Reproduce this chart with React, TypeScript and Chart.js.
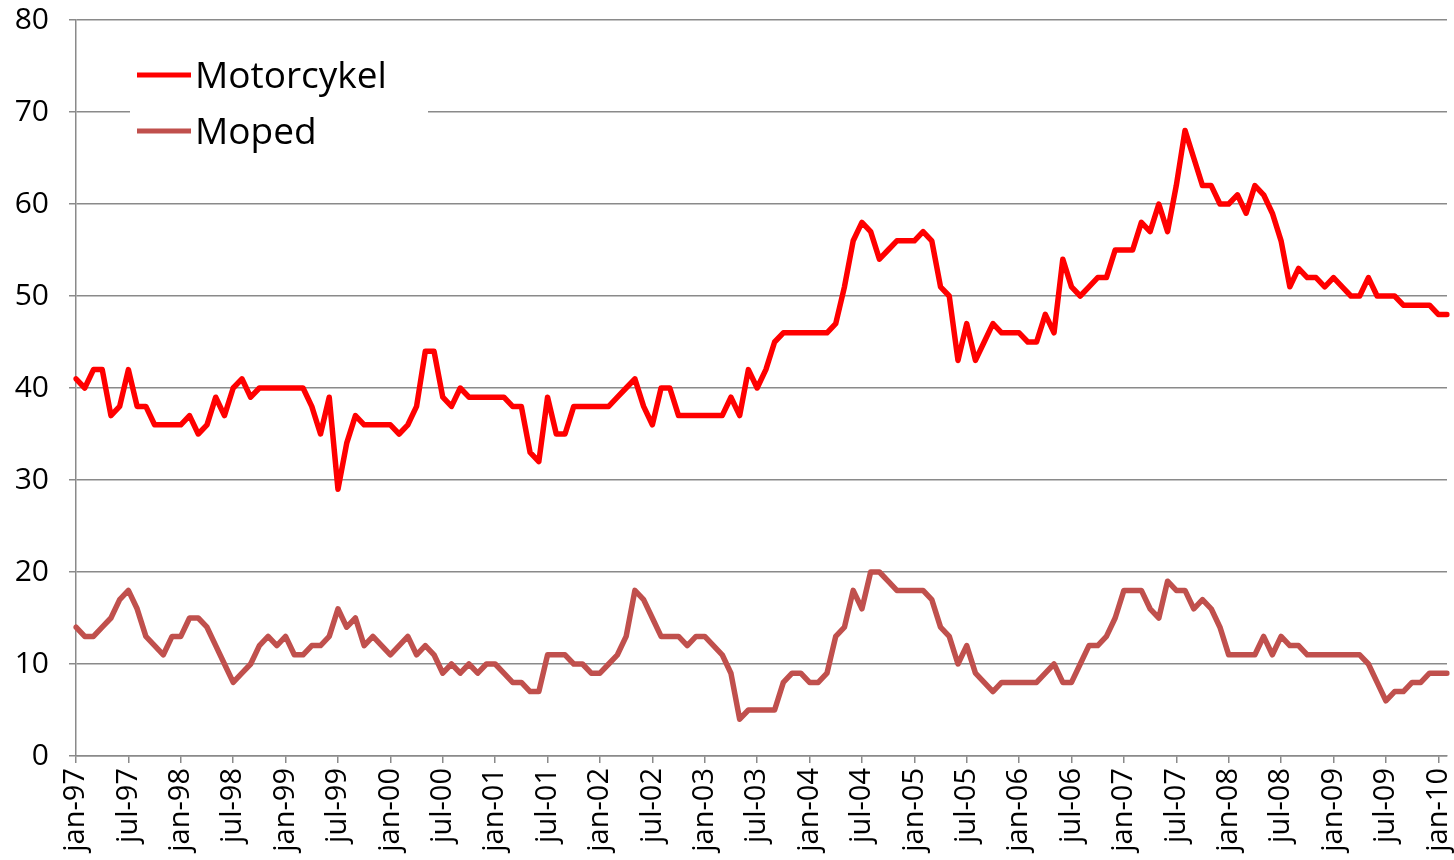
import React, { useEffect, useRef } from 'react';
import { Chart, registerables } from 'chart.js';

Chart.register(...registerables);

const monthNames = ['jan', 'feb', 'mar', 'apr', 'maj', 'jun', 'jul', 'aug', 'sep', 'okt', 'nov', 'dec'];
const startYear = 1997;
const monthCount = 158; // jan-97 .. feb-10

const categories: string[] = [];
for (let i = 0; i < monthCount; i++) {
  const y = (startYear + Math.floor(i / 12)) % 100;
  categories.push(`${monthNames[i % 12]}-${String(y).padStart(2, '0')}`);
}

const motorcykel = [
  41, 40, 42, 42, 37, 38, 42, 38, 38, 36, 36, 36,
  36, 37, 35, 36, 39, 37, 40, 41, 39, 40, 40, 40,
  40, 40, 40, 38, 35, 39, 29, 34, 37, 36, 36, 36,
  36, 35, 36, 38, 44, 44, 39, 38, 40, 39, 39, 39,
  39, 39, 38, 38, 33, 32, 39, 35, 35, 38, 38, 38,
  38, 38, 39, 40, 41, 38, 36, 40, 40, 37, 37, 37,
  37, 37, 37, 39, 37, 42, 40, 42, 45, 46, 46, 46,
  46, 46, 46, 47, 51, 56, 58, 57, 54, 55, 56, 56,
  56, 57, 56, 51, 50, 43, 47, 43, 45, 47, 46, 46,
  46, 45, 45, 48, 46, 54, 51, 50, 51, 52, 52, 55,
  55, 55, 58, 57, 60, 57, 62, 68, 65, 62, 62, 60,
  60, 61, 59, 62, 61, 59, 56, 51, 53, 52, 52, 51,
  52, 51, 50, 50, 52, 50, 50, 50, 49, 49, 49, 49,
  48, 48,
];

const moped = [
  14, 13, 13, 14, 15, 17, 18, 16, 13, 12, 11, 13,
  13, 15, 15, 14, 12, 10, 8, 9, 10, 12, 13, 12,
  13, 11, 11, 12, 12, 13, 16, 14, 15, 12, 13, 12,
  11, 12, 13, 11, 12, 11, 9, 10, 9, 10, 9, 10,
  10, 9, 8, 8, 7, 7, 11, 11, 11, 10, 10, 9,
  9, 10, 11, 13, 18, 17, 15, 13, 13, 13, 12, 13,
  13, 12, 11, 9, 4, 5, 5, 5, 5, 8, 9, 9,
  8, 8, 9, 13, 14, 18, 16, 20, 20, 19, 18, 18,
  18, 18, 17, 14, 13, 10, 12, 9, 8, 7, 8, 8,
  8, 8, 8, 9, 10, 8, 8, 10, 12, 12, 13, 15,
  18, 18, 18, 16, 15, 19, 18, 18, 16, 17, 16, 14,
  11, 11, 11, 11, 13, 11, 13, 12, 12, 11, 11, 11,
  11, 11, 11, 11, 10, 8, 6, 7, 7, 8, 8, 9,
  9, 9,
];

const yTicks = [0, 10, 20, 30, 40, 50, 60, 70, 80];

const FONT = '"Open Sans", "Liberation Sans", sans-serif';
const GRID = '#8a8a8a';

const insideLegend = {
  id: 'insideLegend',
  beforeDatasetsDraw(chart: any) {
    const ctx = chart.ctx as CanvasRenderingContext2D;
    ctx.save();
    ctx.fillStyle = '#ffffff';
    ctx.fillRect(130, 40, 298, 115);
    chart.data.datasets.forEach((ds: any, i: number) => {
      const y = 75 + i * 56;
      ctx.strokeStyle = ds.borderColor;
      ctx.lineWidth = 5;
      ctx.lineCap = 'butt';
      ctx.beginPath();
      ctx.moveTo(137, y);
      ctx.lineTo(191, y);
      ctx.stroke();
      ctx.fillStyle = '#000000';
      ctx.font = `37px ${FONT}`;
      ctx.textBaseline = 'alphabetic';
      ctx.textAlign = 'left';
      ctx.fillText(ds.label, 195, y + 13);
    });
    ctx.restore();
  },
};

export default function App() {
  const ref = useRef<HTMLCanvasElement | null>(null);

  useEffect(() => {
    document.body.style.margin = '0';
    if (!ref.current) return;
    const chart = new Chart(ref.current, {
      type: 'line',
      data: {
        labels: categories,
        datasets: [
          {
            label: 'Motorcykel',
            data: motorcykel,
            borderColor: '#ff0000',
            backgroundColor: '#ff0000',
            borderWidth: 5.5,
            pointRadius: 0,
            tension: 0,
            borderCapStyle: 'round',
            borderJoinStyle: 'round',
          },
          {
            label: 'Moped',
            data: moped,
            borderColor: '#c0504d',
            backgroundColor: '#c0504d',
            borderWidth: 5.5,
            pointRadius: 0,
            tension: 0,
            borderCapStyle: 'round',
            borderJoinStyle: 'round',
          },
        ],
      },
      options: {
        responsive: false,
        animation: false,
        devicePixelRatio: 1,
        layout: { padding: { left: 0, right: 7, top: 20, bottom: 0 } },
        plugins: {
          legend: { display: false },
          tooltip: { enabled: false },
        },
        scales: {
          x: {
            type: 'category',
            offset: false,
            grid: {
              display: true,
              drawOnChartArea: false,
              color: GRID,
              lineWidth: 1.5,
              tickLength: 7,
            },
            border: { display: true, color: GRID, width: 1.5 },
            ticks: {
              autoSkip: false,
              maxRotation: 90,
              minRotation: 90,
              padding: 5,
              color: '#000000',
              font: { family: FONT, size: 29 },
              callback: (_v: any, idx: number) => (idx % 6 === 0 ? categories[idx] : null),
            },
            afterFit: (scale: any) => {
              scale.height = 104;
              scale.paddingLeft = 0;
              scale.paddingRight = 0;
            },
          },
          y: {
            min: 0,
            max: 80,
            afterBuildTicks: (scale: any) => {
              scale.ticks = yTicks.map((v) => ({ value: v }));
            },
            grid: {
              color: GRID,
              lineWidth: 1.5,
              tickLength: 7,
            },
            border: { display: true, color: GRID, width: 1.5 },
            ticks: {
              padding: 20,
              color: '#000000',
              font: { family: FONT, size: 30 },
            },
            afterFit: (scale: any) => {
              scale.width = 76;
              scale.paddingTop = 0;
              scale.paddingBottom = 0;
            },
          },
        },
      },
      plugins: [insideLegend],
    });
    return () => chart.destroy();
  }, []);

  return (
    <div style={{ width: 1454, height: 860 }}>
      <canvas ref={ref} width={1454} height={860} style={{ display: 'block' }} />
    </div>
  );
}
